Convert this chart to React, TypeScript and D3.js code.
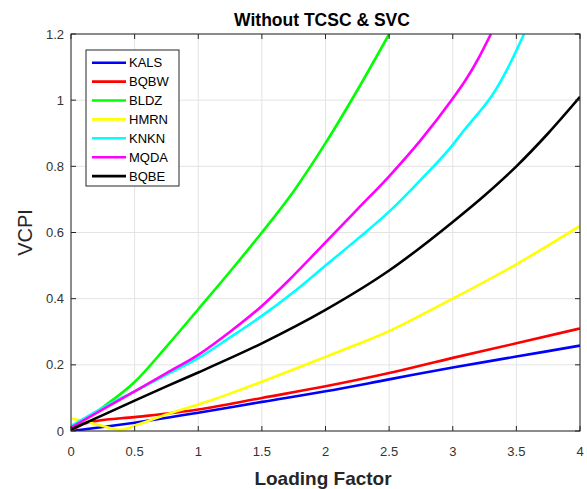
import React from 'react';
import * as d3 from 'd3';

const seriesNames = ['KALS', 'BQBW', 'BLDZ', 'HMRN', 'KNKN', 'MQDA', 'BQBE'];
const seriesColors = ['#0000ff', '#ff0000', '#00ff00', '#ffff00', '#00ffff', '#ff00ff', '#000000'];

const kalsX = [0, 0.25, 0.5, 1.0, 1.5, 2.0, 2.5, 3.0, 3.5, 4.0];
const kalsY = [0.0, 0.012, 0.025, 0.055, 0.088, 0.12, 0.156, 0.192, 0.225, 0.258];

const bqbwX = [0, 0.1, 0.2, 0.5, 1.0, 1.5, 2.0, 2.5, 3.0, 3.5, 4.0];
const bqbwY = [0.0, 0.022, 0.03, 0.042, 0.065, 0.1, 0.135, 0.175, 0.221, 0.265, 0.31];

const bldzX = [0, 0.25, 0.5, 0.75, 1.0, 1.25, 1.5, 1.75, 2.0, 2.25, 2.5];
const bldzY = [0.008, 0.072, 0.148, 0.255, 0.368, 0.482, 0.6, 0.725, 0.87, 1.03, 1.2];

const hmrnX = [0, 0.1, 0.2, 0.3, 0.4, 0.5, 0.75, 1.0, 1.25, 1.5, 2.0, 2.25, 2.5, 2.75, 3.0, 3.5, 4.0];
const hmrnY = [0.038, 0.03, 0.02, 0.01, 0.004, 0.016, 0.05, 0.08, 0.113, 0.149, 0.224, 0.262, 0.302, 0.35, 0.4, 0.504, 0.62];

const knknX = [0, 0.25, 0.5, 0.75, 1.0, 1.25, 1.5, 1.75, 2.0, 2.25, 2.5, 2.75, 3.0, 3.09, 3.2, 3.31, 3.45, 3.56];
const knknY = [0.015, 0.07, 0.12, 0.17, 0.22, 0.283, 0.348, 0.42, 0.5, 0.58, 0.663, 0.76, 0.865, 0.91, 0.96, 1.015, 1.11, 1.2];

const mqdaX = [0, 0.25, 0.5, 0.75, 1.0, 1.25, 1.5, 1.71, 2.0, 2.25, 2.5, 2.75, 3.0, 3.1, 3.2, 3.3];
const mqdaY = [0.01, 0.065, 0.12, 0.175, 0.23, 0.3, 0.378, 0.455, 0.57, 0.67, 0.77, 0.88, 1.005, 1.06, 1.125, 1.2];

const bqbeX = [0, 0.25, 0.5, 0.75, 1.0, 1.5, 2.0, 2.5, 3.0, 3.25, 3.5, 3.75, 4.0];
const bqbeY = [0.005, 0.048, 0.092, 0.135, 0.177, 0.265, 0.366, 0.485, 0.632, 0.712, 0.8, 0.9, 1.01];

const xTicks = [0, 0.5, 1, 1.5, 2, 2.5, 3, 3.5, 4];
const yTicks = [0, 0.2, 0.4, 0.6, 0.8, 1, 1.2];

const seriesXs = [kalsX, bqbwX, bldzX, hmrnX, knknX, mqdaX, bqbeX];
const seriesYs = [kalsY, bqbwY, bldzY, hmrnY, knknY, mqdaY, bqbeY];

const W = 587;
const H = 489;
const L = 71, R = 580, T = 34, B = 431;
const FONT = "Arial, 'Liberation Sans', Helvetica, sans-serif";

export default function App() {
  const x = d3.scaleLinear().domain([0, 4]).range([L, R]);
  const y = d3.scaleLinear().domain([0, 1.2]).range([B, T]);
  const line = d3
    .line<[number, number]>()
    .x((d) => x(d[0]))
    .y((d) => y(d[1]))
    .curve(d3.curveMonotoneX);

  const legendX = 86, legendY = 50, legendW = 93, legendH = 136;
  const rowH = 18.9;

  return (
    <svg
      width={W}
      height={H}
      style={{ position: 'absolute', left: 0, top: 0, background: '#fff' }}
      fontFamily={FONT}
    >
      <rect x={0} y={0} width={W} height={H} fill="#fff" />
      <defs>
        <clipPath id="plotclip">
          <rect x={L} y={T} width={R - L} height={B - T} />
        </clipPath>
      </defs>
      <rect x={L} y={T} width={R - L} height={B - T} fill="#fff" />
      {/* grid */}
      {xTicks.map((t) => (
        <line key={'gx' + t} x1={x(t)} x2={x(t)} y1={T} y2={B} stroke="#e3e3e3" strokeWidth={1} />
      ))}
      {yTicks.map((t) => (
        <line key={'gy' + t} x1={L} x2={R} y1={y(t)} y2={y(t)} stroke="#e3e3e3" strokeWidth={1} />
      ))}
      {/* series */}
      <g clipPath="url(#plotclip)">
        {seriesNames.map((name, i) => {
          const pts: [number, number][] = seriesXs[i].map((v, j) => [v, seriesYs[i][j]]);
          return (
            <path
              key={name}
              d={line(pts) || ''}
              fill="none"
              stroke={seriesColors[i]}
              strokeWidth={2.6}
              strokeLinejoin="round"
            />
          );
        })}
      </g>
      {/* box */}
      <rect x={L} y={T} width={R - L} height={B - T} fill="none" stroke="#262626" strokeWidth={1} />
      {/* ticks */}
      {xTicks.map((t) => (
        <g key={'tx' + t}>
          <line x1={x(t)} x2={x(t)} y1={B} y2={B - 5} stroke="#262626" />
          <line x1={x(t)} x2={x(t)} y1={T} y2={T + 5} stroke="#262626" />
          <text x={x(t)} y={456} fontSize={13} textAnchor="middle" fill="#333">
            {String(t)}
          </text>
        </g>
      ))}
      {yTicks.map((t) => (
        <g key={'ty' + t}>
          <line x1={L} x2={L + 5} y1={y(t)} y2={y(t)} stroke="#262626" />
          <line x1={R} x2={R - 5} y1={y(t)} y2={y(t)} stroke="#262626" />
          <text x={64} y={y(t)} dy="0.35em" fontSize={13} textAnchor="end" fill="#333">
            {String(t)}
          </text>
        </g>
      ))}
      {/* title and labels */}
      <text x={322} y={26} fontSize={17.5} fontWeight="bold" textAnchor="middle" fill="#000">
        Without TCSC &amp; SVC
      </text>
      <text x={323} y={485} fontSize={19} fontWeight="bold" textAnchor="middle" fill="#262626">
        Loading Factor
      </text>
      <text
        transform="translate(32,232.5) rotate(-90)"
        fontSize={20}
        textAnchor="middle"
        fill="#262626"
      >
        VCPI
      </text>
      {/* legend */}
      <rect x={legendX} y={legendY} width={legendW} height={legendH} fill="#fff" stroke="#262626" strokeWidth={1} />
      {seriesNames.map((name, i) => {
        const cy = legendY + 12.7 + i * rowH;
        return (
          <g key={'lg' + name}>
            <line x1={92} x2={126} y1={cy} y2={cy} stroke={seriesColors[i]} strokeWidth={2.6} />
            <text x={129} y={cy} dy="0.36em" fontSize={13} fill="#000">
              {name}
            </text>
          </g>
        );
      })}
    </svg>
  );
}
